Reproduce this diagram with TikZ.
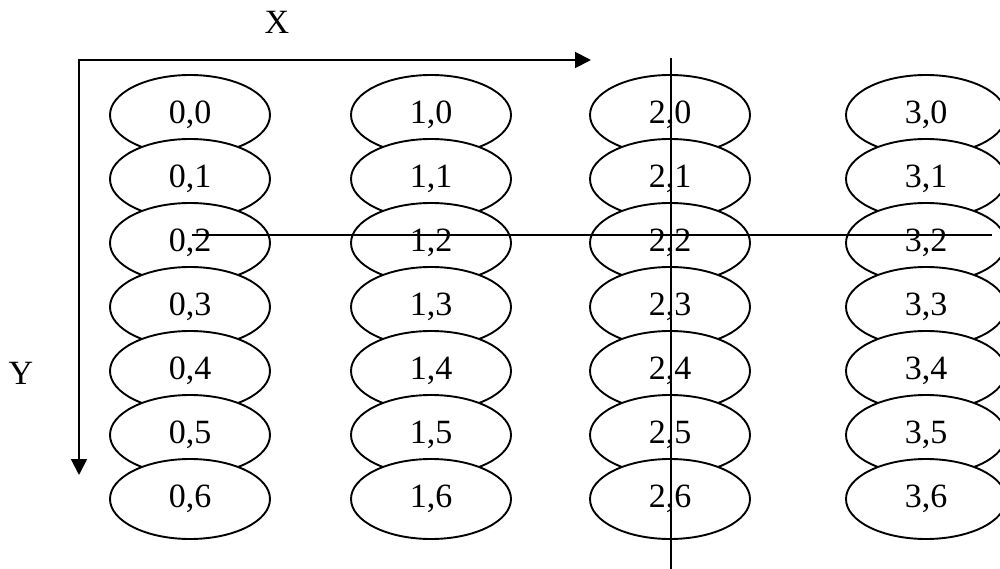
\documentclass[tikz,border=0pt]{standalone}
\usepackage{fontspec}
\setmainfont{Liberation Serif}
\usetikzlibrary{shapes.geometric}
\usetikzlibrary{arrows.meta}

\begin{document}
\begin{tikzpicture}
 [ x=1pt, y=-1pt
 , cell/.style={ellipse, draw, fill=white, line width=1.9pt, minimum width=160pt, minimum height=80pt, inner sep=0pt, font=\fontsize{34}{36}\selectfont}
 , axis/.style={line width=1.9pt, {Triangle[length=16pt,width=16pt]}-{Triangle[length=16pt,width=16pt]}}
 , cut/.style={line width=1.9pt}
 , axisname/.style={font=\fontsize{34}{36}\selectfont}
 ]
  \useasboundingbox (0,0) rectangle (1000,569);

  % grid of cells, drawn row by row so each row sits on top of the one above
  \foreach \r in {0,...,6}
  {
    \foreach \c/\x in {0/190,1/431,2/670,3/926}
    {
      \node [cell] (e\c\r) at (\x,{115+64*\r}) {\c,\r};
    }
  }

  % axes
  \coordinate (o) at (79,60);
  \coordinate (xend) at (591,60);
  \coordinate (yend) at (79,475);
  \draw [axis] (xend) -- (o) -- (yend);
  \node [axisname] (xname) at (277,22) {X};
  \node [axisname] (yname) at (21,373) {Y};

  % cutting lines
  \coordinate (vtop) at (671,58);
  \coordinate (vbot) at (671,569);
  \coordinate (hleft) at (192,235);
  \coordinate (hright) at (992,235);
  \draw [cut] (vtop) -- (vbot);
  \draw [cut] (hleft) -- (hright);
\end{tikzpicture}
\end{document}
